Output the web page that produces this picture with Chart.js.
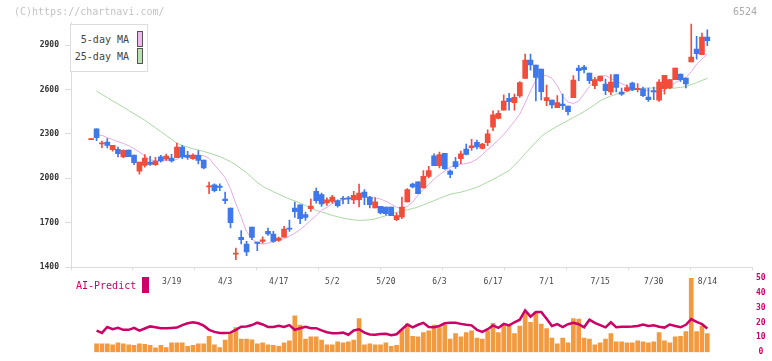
<!DOCTYPE html>
<html><head><meta charset="utf-8">
<script src="https://cdn.jsdelivr.net/npm/chart.js@4.4.1/dist/chart.umd.min.js"></script>
<style>
html,body{margin:0;padding:0;background:#fff;}
#wrap{position:relative;width:772px;height:361px;overflow:hidden;font-family:'DejaVu Sans Mono',monospace;}
canvas{position:absolute;left:0;top:0;}
.t{position:absolute;white-space:nowrap;line-height:10px;font-size:10px;}
</style></head><body>
<div id="wrap">
<canvas id="cp" width="772" height="361"></canvas>
<canvas id="cv" width="772" height="361"></canvas>
<div class="t" style="left:14px;top:7px;color:#c4c4c4">(C)https://chartnavi.com/</div>
<div class="t" style="right:15px;top:7px;color:#aaa">6524</div>
<div style="position:absolute;left:70px;top:24px;width:78px;height:48px;border:1px solid #ddd;background:#fff;box-sizing:border-box"></div>
<div class="t" style="right:643px;top:35px;color:#444">5-day MA</div>
<div class="t" style="right:643px;top:52px;color:#444">25-day MA</div>
<div style="position:absolute;left:137px;top:31px;width:6px;height:16px;border:1px solid #555;background:#efb8ef;box-sizing:border-box"></div>
<div style="position:absolute;left:137px;top:48px;width:6px;height:16px;border:1px solid #555;background:#b9e0b0;box-sizing:border-box"></div>
<div class="t" style="left:76px;top:281px;color:#cc0066">AI-Predict</div>
<div style="position:absolute;left:142px;top:277px;width:7px;height:16px;background:#cc0066"></div>
</div>
<script>
// ---- data ----
const opens = [2261,2335,2232,2245,2193,2196,2144,2191,2157,2049, 2088,2110,2092,2146,2130,2137,2139,2211,2155,2133, 2155,2124,1943,1957,1948,1860,1800,1489,1602,1557, 1671,1570,1575,1642,1624,1581,1604,1665,1800,1822, 1755,1795,1912,1890,1834,1845,1850,1865,1869,1854, 1856,1908,1874,1800,1812,1807,1807,1722,1740,1841, 1962,1976,1935,2014,2153,2086,2169,2050,2113,2133, 2198,2207,2243,2203,2241,2345,2405,2461,2540,2511, 2556,2675,2799,2765,2738,2524,2529,2477,2502,2488, 2545,2745,2751,2711,2625,2659,2637,2583,2700,2583, 2592,2643,2598,2605,2549,2592,2527,2605,2610,2666, 2704,2677,2785,2873,2835,2954];
const closes = [2268,2275,2240,2223,2223,2166,2189,2146,2106,2110, 2137,2094,2117,2117,2151,2117,2211,2144,2142,2155, 2121,2070,1950,1917,1939,1849,1701,1496,1586,1503, 1602,1561,1586,1626,1575,1597,1658,1658,1775,1728, 1737,1813,1849,1827,1856,1874,1816,1859,1861,1886, 1901,1874,1823,1841,1767,1762,1749,1749,1807,1924, 1942,1897,2014,2052,2086,2160,2065,2027,2079,2165, 2162,2219,2212,2232,2300,2428,2439,2522,2518,2547, 2646,2799,2765,2682,2585,2545,2495,2511,2491,2450, 2664,2727,2733,2659,2666,2691,2592,2650,2614,2569, 2612,2598,2607,2558,2531,2583,2650,2695,2666,2745, 2666,2637,2819,2841,2954,2929];
const highs = [2268,2335,2252,2268,2223,2211,2193,2191,2157,2110, 2160,2148,2142,2155,2164,2162,2238,2223,2182,2166, 2187,2124,1975,1964,1964,1908,1800,1530,1647,1575, 1671,1570,1606,1665,1642,1604,1676,1719,1840,1822, 1773,1860,1935,1901,1868,1886,1856,1879,1879,1913, 1962,1924,1879,1868,1812,1807,1807,1767,1874,1931, 1969,1976,2052,2081,2165,2178,2169,2057,2142,2185, 2232,2264,2259,2237,2327,2455,2457,2563,2574,2569, 2653,2839,2839,2765,2738,2630,2529,2558,2569,2488, 2693,2763,2763,2711,2682,2691,2670,2700,2700,2610, 2632,2650,2639,2616,2610,2616,2666,2695,2666,2745, 2704,2677,3042,2958,2981,3003];
const lows = [2261,2254,2207,2205,2184,2144,2139,2146,2092,2029, 2076,2088,2088,2110,2121,2110,2139,2133,2128,2128, 2097,2063,1896,1908,1917,1829,1665,1451,1557,1478, 1586,1512,1563,1615,1568,1575,1604,1642,1737,1694, 1716,1777,1833,1811,1818,1832,1805,1827,1829,1829, 1807,1823,1800,1800,1760,1751,1749,1715,1728,1841, 1935,1897,1935,2003,2086,2070,2060,2005,2068,2099, 2158,2189,2198,2198,2221,2322,2401,2461,2461,2461, 2547,2675,2731,2522,2529,2491,2473,2477,2466,2428, 2545,2659,2711,2639,2605,2655,2565,2565,2583,2560, 2587,2592,2583,2551,2520,2531,2520,2569,2605,2666, 2655,2610,2785,2805,2835,2895];
const ma5 = [null, 2291,2291,2275,2262,2248,2236,2220,2200,2178,2152, 2126,2118,2118,2120,2122,2128,2150,2157,2159,2156, 2154,2135,2090,2050,2005,1930,1830,1738,1640,1590, 1564,1557,1563,1575,1586,1592,1610,1630,1655,1685, 1718,1750,1785,1805,1830,1843,1856,1862,1866,1869, 1871,1871,1869,1860,1846,1825,1805,1795,1812,1840, 1888,1925,1960,1995,2025,2050,2075,2090,2095,2100, 2110,2130,2160,2195,2225,2260,2295,2340,2385,2435, 2510,2590,2665,2690,2695,2675,2625,2555,2515,2505, 2522,2570,2620,2660,2687,2695,2675,2655,2640,2622, 2610,2605,2600,2592,2586,2582,2595,2620,2645,2665, 2680,2720,2770,2805,2838];
const ma25 = [null, 2588,2567,2545,2523,2502,2480,2458,2436,2414,2393, 2366,2341,2316,2290,2264,2237,2223,2211,2200,2191, 2182,2171,2159,2147,2130,2113,2091,2065,2039,2006, 1972,1946,1928,1910,1893,1876,1861,1848,1834,1817, 1800,1783,1773,1762,1750,1741,1732,1725,1720,1717, 1718,1721,1726,1737,1748,1759,1771,1782,1789,1796, 1807,1821,1835,1850,1865,1879,1893,1900,1907,1917, 1928,1940,1957,1975,1993,2013,2033,2053,2089,2125, 2168,2206,2244,2282,2309,2331,2352,2371,2391,2411, 2430,2451,2473,2498,2524,2540,2556,2568,2576,2585, 2594,2603,2608,2610,2610,2610,2609,2608,2610,2614, 2620,2633,2646,2661,2675];
const volume = [null, 5.7,5.7,5.7,5.05,6.3,5.7,5.05,4.6,5.7,5.25, 4.6,2.95,4.6,3.15,6.3,6.3,6.3,4.0,4.6,5.7, 5.7,10.7,5.05,3.15,8.2,12.6,16.6,8.8,8.8,8.4, 5.7,6.3,5.05,4.6,4.0,6.3,7.6,24.6,18.3,8.8, 10.3,10.3,8.2,5.05,5.05,7.0,6.3,7.0,8.2,22.7, 5.05,5.7,5.05,5.05,6.3,4.0,4.6,15.1,19.1,10.7, 10.3,13.3,14.5,18.3,16.6,18.3,8.8,12.6,10.3,13.3, 14.5,9.5,8.8,14.5,19.5,13.3,18.1,17.7,12.6,17.7, 26.0,20.2,27.1,18.9,16.0,9.5,5.7,9.5,6.3,22.7, 22.3,9.5,8.8,5.05,6.3,8.8,12.6,7.0,7.0,6.3, 6.3,7.6,7.0,6.3,7.0,13.3,7.6,6.3,10.3,10.7, 13.9,49.8,13.9,17.7,12.6];
const aiPredict = [null, 14.5,13.0,17.0,15.5,16.4,15.1,15.1,16.4,14.5,16.0, 17.4,16.8,16.2,16.2,16.4,16.6,18.3,19.5,20.2,19.5, 17.9,15.1,13.7,13.0,13.0,13.2,15.1,17.2,17.4,18.3, 19.9,18.7,17.0,17.0,17.9,17.0,18.3,15.1,16.2,17.2, 16.2,16.2,14.7,13.5,12.8,12.8,13.2,11.8,14.7,15.5, 13.2,12.0,11.8,12.3,12.4,11.4,12.1,15.5,18.7,16.8, 18.5,19.8,17.0,16.8,17.7,19.5,19.8,19.8,19.1,18.5, 18.1,15.1,13.7,15.5,18.1,16.4,19.1,18.1,20.2,21.9, 28.2,24.0,27.1,27.1,22.5,17.7,18.9,17.0,18.9,19.8, 18.9,16.8,21.9,19.8,18.3,16.8,20.2,16.8,17.2,17.2, 17.4,17.7,18.7,17.7,18.1,17.2,16.6,18.7,17.7,16.8, 18.5,22.3,20.4,18.9,16.0];
const dateLabels = ['3/19','4/3','4/17','5/2','5/20','6/3','6/17','7/1','7/15','7/30','8/14'];
const dateIdx = [15,25,35,45,55,65,75,85,95,105,115];
const priceTicks = [1400,1700,2000,2300,2600,2900];
const volTicks = [0,10,20,30,40,50];

// ---- chart ----
const XMIN = -3.77, XMAX = 123.34;
const YMIN = 1400, YMAX = 3055.2;
const VMAX = 52.08;
const RED = '#f24c3a', BLUE = '#3e78ea';
const idx = closes.map((_, i) => i);
const cColors = idx.map(i => closes[i] >= opens[i] ? RED : BLUE);
const mono = 'DejaVu Sans Mono';

new Chart(document.getElementById('cp'), {
  type: 'bar',
  data: { datasets: [
    { type: 'line', data: idx.map(i => ({x: i, y: ma25[i]})), borderColor: '#a9d8a1', borderWidth: 1, pointRadius: 0, order: 3, xAxisID: 'x', yAxisID: 'y' },
    { type: 'line', data: idx.map(i => ({x: i, y: ma5[i]})), borderColor: '#e8aae8', borderWidth: 1, pointRadius: 0, order: 2, xAxisID: 'x', yAxisID: 'y' },
    { data: idx.map(i => ({x: i, y: [lows[i], highs[i]]})), backgroundColor: cColors, barThickness: 1, grouped: false, order: 1, xAxisID: 'x', yAxisID: 'y' },
    { data: idx.map(i => ({x: i, y: [opens[i], closes[i]]})), backgroundColor: cColors, barThickness: 5, grouped: false, order: 0, xAxisID: 'x', yAxisID: 'y' }
  ]},
  options: {
    responsive: false, animation: false, devicePixelRatio: 1,
    layout: { padding: { top: 22, right: 20, left: 0, bottom: 0 } },
    plugins: { legend: { display: false }, tooltip: { enabled: false } },
    scales: {
      x: { type: 'linear', min: XMIN, max: XMAX, offset: false, position: 'bottom', weight: 0,
        afterBuildTicks: s => { s.ticks = Array.from({length: 12}, (_, k) => ({ value: XMIN + k * (XMAX - XMIN) / 11 })); },
        ticks: { display: false },
        grid: { display: true, drawOnChartArea: false, drawTicks: true, tickLength: 3, color: '#dcdcdc', offset: false },
        border: { display: true, color: '#dcdcdc' },
        afterFit: s => { s.height = 3; } },
      xl: { type: 'linear', min: XMIN, max: XMAX, offset: false, position: 'bottom', weight: 1,
        afterBuildTicks: s => { s.ticks = dateIdx.map(v => ({ value: v })); },
        ticks: { callback: v => dateLabels[dateIdx.indexOf(v)], font: { family: mono, size: 8 }, color: '#444', padding: 7, maxRotation: 0, autoSkip: false },
        grid: { display: false, drawTicks: false, tickLength: 0 }, border: { display: false },
        afterFit: s => { s.height = 90.7; } },
      y: { type: 'linear', position: 'left', min: YMIN, max: YMAX,
        afterBuildTicks: s => { s.ticks = priceTicks.map(v => ({ value: v })); },
        ticks: { callback: v => String(v), font: { family: mono, size: 8, weight: 'bold' }, color: '#333', padding: 6 },
        grid: { drawOnChartArea: false, tickLength: 6, color: '#dcdcdc' },
        border: { color: '#dcdcdc' },
        afterFit: s => { s.width = 71; } }
    }
  }
});

new Chart(document.getElementById('cv'), {
  type: 'bar',
  data: { datasets: [
    { type: 'line', data: idx.map(i => ({x: i, y: aiPredict[i]})), borderColor: '#cc0066', borderWidth: 2.5, pointRadius: 0, order: 0, xAxisID: 'x', yAxisID: 'yv' },
    { data: idx.map(i => ({x: i, y: volume[i]})), backgroundColor: '#f39a3e', barThickness: 4, order: 1, xAxisID: 'x', yAxisID: 'yv' }
  ]},
  options: {
    responsive: false, animation: false, devicePixelRatio: 1,
    layout: { padding: { top: 275, left: 71, right: 0, bottom: 3.3 } },
    plugins: { legend: { display: false }, tooltip: { enabled: false } },
    scales: {
      x: { type: 'linear', min: XMIN, max: XMAX, offset: false, display: false },
      yv: { type: 'linear', position: 'right', min: 0, max: VMAX,
        afterBuildTicks: s => { s.ticks = volTicks.map(v => ({ value: v })); },
        ticks: { callback: v => String(v), font: { family: mono, size: 8, weight: 'bold' }, color: '#cc0066', padding: 4, crossAlign: 'center' },
        grid: { display: false, drawTicks: false, tickLength: 0 }, border: { display: false },
        afterFit: s => { s.width = 20; } }
    }
  }
});
</script>
</body></html>
